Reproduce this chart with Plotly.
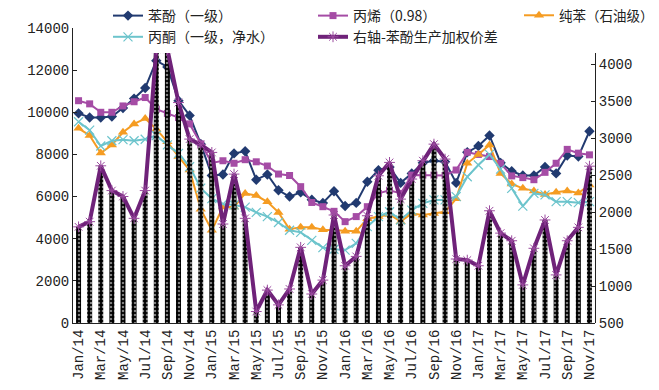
import plotly.graph_objects as go

months = ["Jan/14","Feb/14","Mar/14","Apr/14","May/14","Jun/14","Jul/14","Aug/14","Sep/14","Oct/14","Nov/14","Dec/14",
          "Jan/15","Feb/15","Mar/15","Apr/15","May/15","Jun/15","Jul/15","Aug/15","Sep/15","Oct/15","Nov/15","Dec/15",
          "Jan/16","Feb/16","Mar/16","Apr/16","May/16","Jun/16","Jul/16","Aug/16","Sep/16","Oct/16","Nov/16","Dec/16",
          "Jan/17","Feb/17","Mar/17","Apr/17","May/17","Jun/17","Jul/17","Aug/17","Sep/17","Oct/17","Nov/17"]
tick_labels = months[::2]

phenol = [9950, 9750, 9750, 9800, 10200, 10650, 11150, 12450, 12150, 10550,
          9850, 8500, 7000, 7050, 8050, 8150, 6800, 7050, 6300, 6000,
          6200, 5850, 5700, 6250, 5550, 5700, 6700, 7250, 7400, 6650,
          7100, 7600, 7700, 7650, 6650, 8100, 8400, 8900, 7600, 7200,
          7000, 7000, 7400, 7100, 7950, 7900, 9100]
propylene = [10550, 10400, 10000, 10000, 10300, 10500, 10700, 10150, 9950, 9750,
             9450, 8500, 7600, 7700, 7580, 7750, 7650, 7450, 7070, 7000,
             6470, 5720, 5520, 5300, 4810, 5050, 5520, 6150, 6300, 6150,
             7020, 7020, 7020, 7000, 7260, 8100, 8000, 7900, 7580, 6980,
             6900, 6800, 7150, 7580, 8240, 8060, 7980]
benzene = [9240, 8900, 8070, 8450, 9050, 9450, 9700, 9200, 8600, 7900,
           7260, 5400, 4400, 5500, 5500, 6150, 6050, 5750, 5250, 4450,
           4550, 4550, 4430, 4400, 4350, 4350, 4950, 5050, 5150, 4810,
           5200, 5130, 5200, 5280, 5900, 7580, 8000, 8450, 7100, 6600,
           6390, 6270, 6100, 6210, 6270, 6170, 6550]
acetone = [9550, 9150, 8400, 8650, 8700, 8650, 8720, 8900, 8450, 8050,
           7420, 6400, 5900, 5650, 5600, 5500, 5250, 5050, 4770, 4400,
           4300, 3920, 3580, 3500, 3460, 3780, 4570, 5050, 5280, 4890,
           5360, 5680, 5840, 5840, 6000, 6940, 7500, 8000, 7300, 6390,
           5550, 6150, 6080, 5760, 5760, 5710, 5760]
spread = [1800, 1870, 2625, 2290, 2210, 1915, 2290, 4200, 4200, 3480,
          2986, 2910, 2806, 1838, 2513, 1915, 655, 945, 745, 960,
          1523, 892, 1080, 1960, 1274, 1400, 1950, 2490, 2671, 2175,
          2446, 2694, 2918, 2716, 1365, 1350, 1274, 2017, 1715, 1612,
          1015, 1510, 1893, 1150, 1612, 1793, 2620]

names = ["苯酚（一级）", "丙烯（0.98）", "纯苯（石油级）", "丙酮（一级，净水）", "右轴-苯酚生产加权价差"]

C_NAVY = "#213a70"
C_PINK = "#a54ca5"
C_ORANGE = "#f59c22"
C_CYAN = "#6cc4cc"
C_PURPLE = "#6f2279"

fig = go.Figure()

fig.add_trace(go.Scatter(x=months, y=phenol, name=names[0], mode="lines+markers",
                         line=dict(color=C_NAVY, width=2),
                         marker=dict(symbol="diamond", size=8, color=C_NAVY),
                         legend="legend", xaxis="x", yaxis="y"))
fig.add_trace(go.Scatter(x=months, y=propylene, name=names[1], mode="lines+markers",
                         line=dict(color=C_PINK, width=2),
                         marker=dict(symbol="square", size=7, color=C_PINK),
                         legend="legend2", xaxis="x", yaxis="y"))
fig.add_trace(go.Scatter(x=months, y=benzene, name=names[2], mode="lines+markers",
                         line=dict(color=C_ORANGE, width=2),
                         marker=dict(symbol="triangle-up", size=9, color=C_ORANGE),
                         legend="legend3", xaxis="x", yaxis="y"))
fig.add_trace(go.Scatter(x=months, y=acetone, name=names[3], mode="lines+markers",
                         line=dict(color=C_CYAN, width=2),
                         marker=dict(symbol="x-thin", size=9, color=C_CYAN,
                                     line=dict(color=C_CYAN, width=1.2)),
                         legend="legend", xaxis="x", yaxis="y"))
fig.add_trace(go.Bar(x=months, y=spread, showlegend=False, width=0.45,
                     marker=dict(color="black", line=dict(width=0),
                                 pattern=dict(shape=".", fgcolor="white", size=4, solidity=0.3)),
                     xaxis="x", yaxis="y2", hoverinfo="skip"))
fig.add_trace(go.Scatter(x=months, y=spread, name=names[4], mode="lines+markers",
                         line=dict(color=C_PURPLE, width=4),
                         marker=dict(symbol="asterisk-open", size=9, color="#9a4a9e",
                                     line=dict(color="#9a4a9e", width=1)),
                         legend="legend2", xaxis="x", yaxis="y2"))

tickfont = dict(family="Liberation Mono, monospace", size=14, color="#222")
legfont = dict(family="Noto Sans CJK SC, sans-serif", size=14, color="#222")
legfont3 = dict(family="Noto Sans CJK SC, sans-serif", size=13.5, color="#222")

L, R, T, B = 73, 64, 28, 67
plot_h = 390 - T - B
plot_w = 659 - L - R

def px_x(px):
    return (px - L) / plot_w

def px_y(py):
    return (390 - B - py) / plot_h

fig.update_layout(
    width=659, height=390,
    margin=dict(l=L, r=R, t=T, b=B, autoexpand=False),
    paper_bgcolor="white", plot_bgcolor="rgba(0,0,0,0)",
    barmode="overlay",
    xaxis=dict(type="category", categoryorder="array", categoryarray=months,
               range=[-0.5, len(months) - 0.5],
               tickmode="array", tickvals=tick_labels, ticktext=tick_labels,
               tickangle=-90, tickfont=tickfont, showgrid=False, zeroline=False,
               showline=True, linecolor="#222", linewidth=1, ticks="",
               anchor="y", automargin=False),
    yaxis=dict(range=[0, 14000], dtick=2000, tickformat="d", tickfont=tickfont, showgrid=False,
               zeroline=False, showline=True, linecolor="#222", linewidth=1,
               ticks="inside", ticklen=4, tickcolor="#222", anchor="x", automargin=False),
    yaxis2=dict(range=[500, 4150], tickvals=[500, 1000, 1500, 2000, 2500, 3000, 3500, 4000],
                tickformat="d",
                domain=[0, (323 - 53) / plot_h], side="right", anchor="x",
                tickfont=tickfont, showgrid=False, zeroline=False, showline=True,
                linecolor="#222", linewidth=1, ticks="inside", ticklen=4, tickcolor="#222",
                automargin=False),
    legend=dict(x=px_x(108), y=px_y(0), xanchor="left", yanchor="top",
                font=legfont, bgcolor="rgba(0,0,0,0)", traceorder="normal", tracegroupgap=0),
    legend2=dict(x=px_x(313), y=px_y(0), xanchor="left", yanchor="top",
                 font=legfont, bgcolor="rgba(0,0,0,0)", traceorder="normal", tracegroupgap=0),
    legend3=dict(x=px_x(519), y=px_y(0), xanchor="left", yanchor="top",
                 font=legfont3, bgcolor="rgba(0,0,0,0)", traceorder="normal", tracegroupgap=0),
    showlegend=True,
)

fig.write_html("out.html", config={"displayModeBar": False},
               post_script="document.body.style.margin='0px';")
